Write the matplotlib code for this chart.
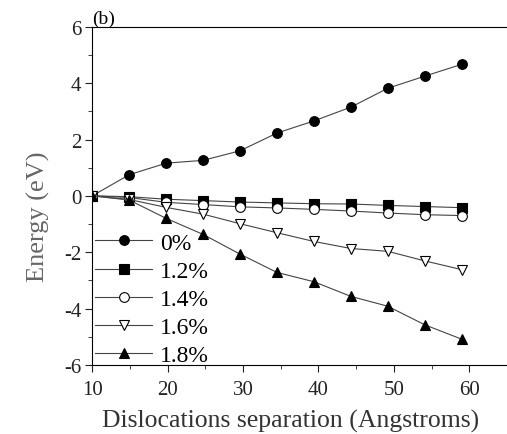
import numpy as np
import matplotlib.pyplot as plt
from matplotlib.ticker import MultipleLocator

# dislocation separation (Angstroms)
separation = [10, 14.9, 19.8, 24.7, 29.6, 34.5, 39.4, 44.3, 49.2, 54.1, 59.0]

# energy (eV) for each strain
e_0 = [0, 0.75, 1.16, 1.26, 1.60, 2.23, 2.66, 3.15, 3.82, 4.25, 4.67]
e_12 = [0, -0.03, -0.12, -0.17, -0.22, -0.25, -0.28, -0.29, -0.34, -0.38, -0.42]
e_14 = [0, -0.06, -0.23, -0.31, -0.39, -0.43, -0.48, -0.54, -0.61, -0.67, -0.70]
e_16 = [0, -0.13, -0.41, -0.65, -0.99, -1.31, -1.62, -1.87, -1.97, -2.31, -2.62]
e_18 = [0, -0.15, -0.80, -1.37, -2.07, -2.72, -3.05, -3.57, -3.92, -4.58, -5.09]

labels = ['0%', '1.2%', '1.4%', '1.6%', '1.8%']

plt.rcParams['font.family'] = ['Liberation Serif', 'DejaVu Serif']
plt.rcParams['axes.unicode_minus'] = False

fig = plt.figure(figsize=(5.07, 4.35), dpi=100)
ax = fig.add_axes([0.182, 0.159, 0.818, 0.777])

series = [e_0, e_12, e_14, e_16, e_18]
markers = ['o', 's', 'o', 'v', '^']
faces = ['black', 'black', 'white', 'white', 'black']

for vals, m, fc, lab in zip(series, markers, faces, labels):
    ax.plot(separation, vals, color='#444444', lw=0.8, marker=m,
            markersize=7, markerfacecolor=fc, markeredgecolor='black',
            markeredgewidth=0.8, label=lab)

ax.set_xlim(10, 65)
ax.set_ylim(-6, 6)
ax.xaxis.set_major_locator(MultipleLocator(10))
ax.xaxis.set_minor_locator(MultipleLocator(5))
ax.yaxis.set_major_locator(MultipleLocator(2))
ax.yaxis.set_minor_locator(MultipleLocator(1))
ax.tick_params(which='both', direction='out', top=False, right=False,
               labelsize=15, color='#222222', labelcolor='#222222')
ax.tick_params(which='major', length=5, pad=3)
ax.tick_params(axis='x', which='major', pad=6)
ax.tick_params(which='minor', length=3)
ax.spines['right'].set_visible(False)

ax.set_xlabel('Dislocations separation (Angstroms)', fontsize=18.5, color='#333333')
ax.xaxis.set_label_coords(0.477, -0.13)
ax.set_ylabel('Energy (eV)', fontsize=19, color='#666666')
ax.yaxis.set_label_coords(-0.103, 0.44)

ax.text(0.0, 1.0, '(b)', transform=ax.transAxes, fontsize=14,
        ha='left', va='bottom')

ax.legend(loc='lower left', frameon=False, fontsize=17, handlelength=2.4,
          handletextpad=0.35, labelspacing=0.28, borderaxespad=0.0,
          borderpad=0.0, bbox_to_anchor=(0.007, -0.004))

plt.savefig('out.png', dpi=100)
